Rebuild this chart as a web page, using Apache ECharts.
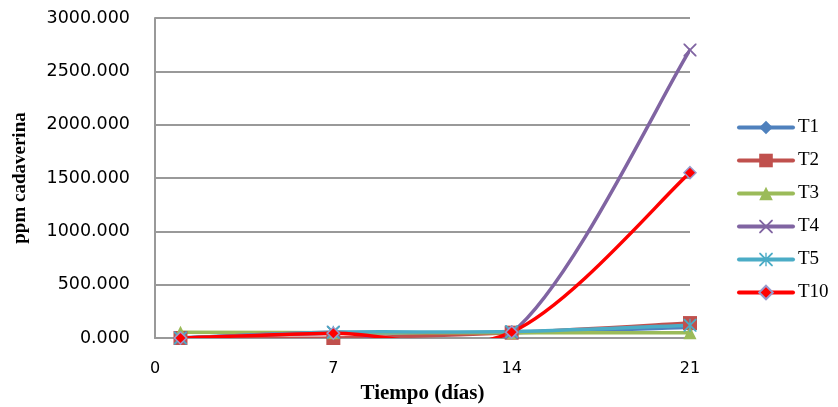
<!DOCTYPE html>
<html>
<head>
<meta charset="utf-8">
<script src="https://cdn.jsdelivr.net/npm/echarts@6/dist/echarts.min.js"></script>
<style>html,body{margin:0;padding:0;background:#fff}#c{width:838px;height:407px}</style>
</head>
<body>
<div id="c"></div>
<script>
const days = [1, 7, 14, 21];
const xTicks = [0, 7, 14, 21];
const seriesNames = ['T1', 'T2', 'T3', 'T4', 'T5', 'T10'];
const T1 = [0, 45, 50, 100];
const T2 = [0, 0, 50, 140];
const T3 = [55, 50, 50, 50];
const T4 = [0, 55, 50, 2700];
const T5 = [0, 55, 60, 120];
const T10 = [0, 45, 55, 1550];

const colors = ['#4F81BD', '#C0504D', '#9BBB59', '#8064A2', '#4BACC6', '#FF0000'];
const xPath = 'path://M0,0 L2,0 L10,8 L18,0 L20,0 L20,2 L12,10 L20,18 L20,20 L18,20 L10,12 L2,20 L0,20 L0,18 L8,10 L0,2 Z';
const starPath = 'path://M0,0 L2,0 L10,8 L18,0 L20,0 L20,2 L12,10 L20,18 L20,20 L18,20 L10,12 L2,20 L0,20 L0,18 L8,10 L0,2 Z M9,0 L11,0 L11,20 L9,20 Z';
const symbols = ['diamond', 'rect', 'triangle', xPath, starPath, 'diamond'];
const symSizes = [11, 14, 13, 13, 13, 12];
const allData = [T1, T2, T3, T4, T5, T10];

// Excel-like smoothed curve (Catmull-Rom Bezier) computed in pixel space via the axes
function curveSeries(values, color, idx) {
  const pts = days.map((d, j) => [d, values[j]]);
  return {
    type: 'custom', name: seriesNames[idx] + ' curve', silent: true,
    data: pts, z: 2 + idx * 0.01, clip: true,
    renderItem: function (params, api) {
      const i = params.dataIndex;
      if (i >= pts.length - 1) return null;
      const P = pts.map(p => api.coord(p));
      const p0 = P[Math.max(i - 1, 0)], p1 = P[i], p2 = P[i + 1], p3 = P[Math.min(i + 2, P.length - 1)];
      const k = 1 / 6;
      return {
        type: 'bezierCurve',
        shape: {
          x1: p1[0], y1: p1[1], x2: p2[0], y2: p2[1],
          cpx1: p1[0] + (p2[0] - p0[0]) * k, cpy1: p1[1] + (p2[1] - p0[1]) * k,
          cpx2: p2[0] - (p3[0] - p1[0]) * k, cpy2: p2[1] - (p3[1] - p1[1]) * k
        },
        style: { stroke: color, lineWidth: 3.5, fill: null, lineCap: 'round' }
      };
    }
  };
}

const markerSeries = seriesNames.map((n, i) => ({
  name: n, type: 'line',
  data: days.map((d, j) => [d, allData[i][j]]),
  symbol: symbols[i], symbolSize: symSizes[i],
  lineStyle: { width: 3.5, color: colors[i], opacity: 0 },
  itemStyle: n === 'T10'
    ? { color: '#FF0000', borderColor: '#9999CC', borderWidth: 1.5 }
    : { color: colors[i], borderWidth: 0 },
  z: 3 + i * 0.01
}));

const chart = echarts.init(document.getElementById('c'));
chart.setOption({
  animation: false,
  color: colors,
  grid: { left: 155, right: 148, top: 18, bottom: 69, containLabel: false, outerBoundsMode: 'none' },
  xAxis: {
    type: 'value', min: 0, max: 21, interval: 7,
    name: 'Tiempo (días)', nameLocation: 'middle', nameGap: 45,
    nameTextStyle: { fontFamily: 'Liberation Serif', fontWeight: 'bold', fontSize: 21, color: '#000' },
    axisLine: { show: true, lineStyle: { color: '#999', width: 2 } },
    axisTick: { show: false },
    splitLine: { show: false },
    axisLabel: { fontFamily: 'DejaVu Sans', fontSize: 16, color: '#000', margin: 23 }
  },
  yAxis: {
    type: 'value', min: 0, max: 3000, interval: 500,
    name: 'ppm cadaverina', nameLocation: 'middle', nameGap: 125, nameRotate: 90,
    nameTextStyle: { fontFamily: 'Liberation Serif', fontWeight: 'bold', fontSize: 19, color: '#000' },
    axisLine: { show: true, lineStyle: { color: '#999', width: 2 } },
    axisTick: { show: false },
    splitLine: { show: true, lineStyle: { color: '#999', width: 2 } },
    axisLabel: { fontFamily: 'DejaVu Sans', fontSize: 17.5, color: '#000', margin: 25, formatter: v => v.toFixed(3) }
  },
  legend: {
    orient: 'vertical', left: 732, top: 113,
    itemWidth: 54, itemHeight: 17, itemGap: 14,
    lineStyle: { width: 4, cap: 'round', opacity: 1 },
    textStyle: { fontFamily: 'Liberation Serif', fontSize: 19, color: '#000' },
    data: seriesNames
  },
  series: allData.map((v, i) => curveSeries(v, colors[i], i)).concat(markerSeries)
});
</script>
</body>
</html>
